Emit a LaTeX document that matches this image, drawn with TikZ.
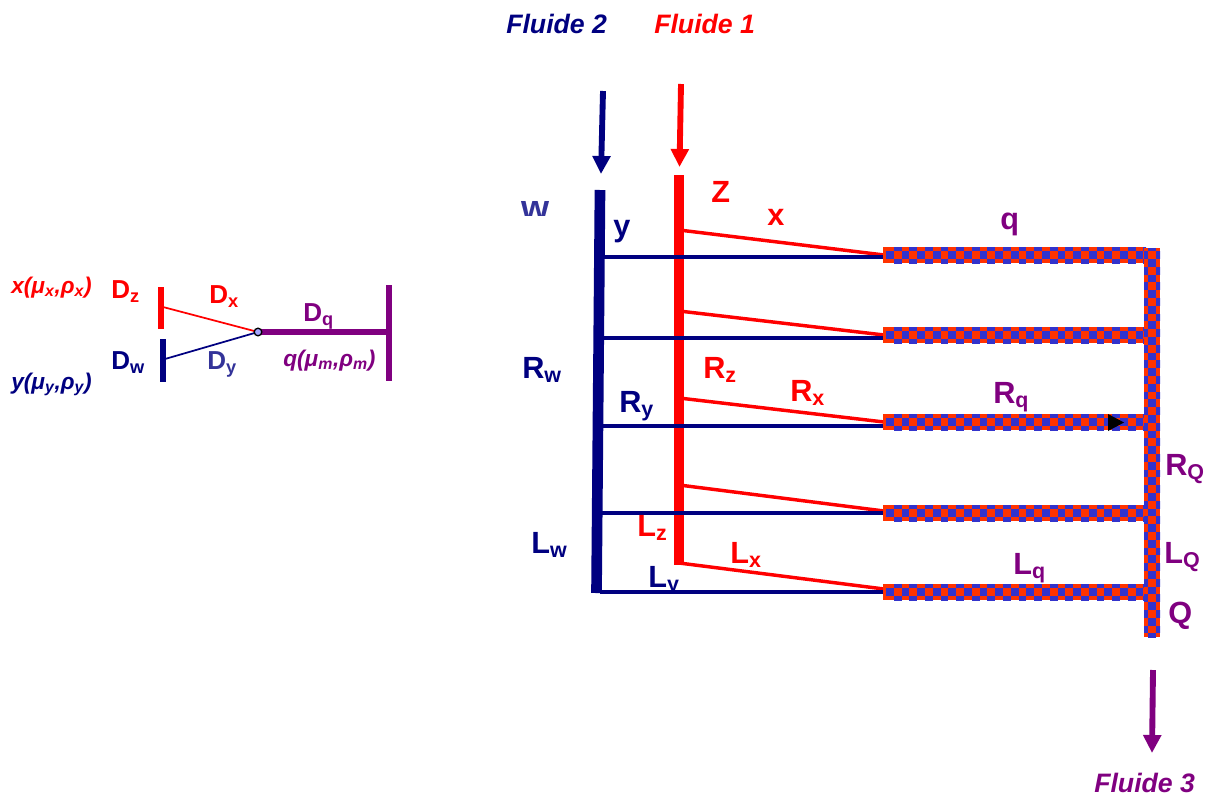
\documentclass[tikz,border=0pt]{standalone}
\usepackage{fontspec}
\setmainfont{Liberation Sans}
\usetikzlibrary{arrows.meta}
\definecolor{fnavy}{HTML}{000080}
\definecolor{fpale}{HTML}{333399}
\definecolor{fpurple}{HTML}{800080}
\definecolor{chkred}{HTML}{FF3300}
\definecolor{chkblue}{HTML}{3333CC}
\newcommand{\lbl}[2]{#1\textsubscript{#2}}
\newcommand{\hchecks}[1]{%
  \begin{scope}
    \clip (883,#1-8) rectangle (1146,#1+8);
    \fill[chkred] (883,#1-8) rectangle (1146,#1+8);
    \foreach \k in {0,...,16}{
      \fill[chkblue] (886+15.6*\k,#1-3.9) rectangle +(7.8,7.8);
      \fill[chkblue] (893.8+15.6*\k,#1-11.7) rectangle +(7.8,7.8);
      \fill[chkblue] (893.8+15.6*\k,#1+3.9) rectangle +(7.8,7.8);
    }
  \end{scope}}
\tikzset{
  big/.style={font=\fontsize{23}{25}\bfseries,anchor=base west,inner sep=0pt},
  small/.style={font=\fontsize{19.5}{22}\bfseries,anchor=base west,inner sep=0pt},
  fluid/.style={font=\fontsize{20}{22}\bfseries\itshape,anchor=base west,inner sep=0pt},
  prop/.style={font=\fontsize{17}{19}\bfseries\itshape,anchor=base west,inner sep=0pt},
  feed/.style={line width=4.4pt,-{Triangle[length=13.5pt,width=13pt]}}
}
\begin{document}
\begin{tikzpicture}[x=0.75pt,y=-0.75pt]
  \useasboundingbox (0,0) rectangle (1209,796);
  % small junction on the left
  \coordinate (Z1) at (161,287); \coordinate (Z2) at (161,329);
  \coordinate (W1) at (163,339); \coordinate (W2) at (163,382);
  \coordinate (Zm) at (163,307); \coordinate (Wm) at (165,359);
  \coordinate (J) at (258,332);  \coordinate (E) at (389,332);
  \coordinate (E1) at (389,285); \coordinate (E2) at (389,381);
  \draw[red,line width=4.4pt] (Z1) -- (Z2);
  \draw[fnavy,line width=4.4pt] (W1) -- (W2);
  \draw[fpurple,line width=4.2pt] (E1) -- (E2);
  \draw[fpurple,line width=4.2pt] (J) -- (E);
  \draw[red,line width=1.3pt] (Zm) -- (J);
  \draw[fnavy,line width=1.3pt] (Wm) -- (J);
  \fill[fill=blue!35!white,draw=black,line width=1pt] (J) circle (3.8);
  \node[prop,red] (xprop) at (11,293) {x(μ\textsubscript{x},ρ\textsubscript{x})};
  \node[prop,fnavy] (yprop) at (11,389) {y(μ\textsubscript{y},ρ\textsubscript{y})};
  \node[prop,fpurple] (qprop) at (283,366) {q(μ\textsubscript{m},ρ\textsubscript{m})};
  \node[small,red] (Dz) at (111,298) {\lbl{D}{z}};
  \node[small,red] (Dx) at (209,303) {\lbl{D}{x}};
  \node[small,fpurple] (Dq) at (303,321) {\lbl{D}{q}};
  \node[small,fnavy] (Dw) at (111,369) {\lbl{D}{w}};
  \node[small,fpale] (Dy) at (207,369) {\lbl{D}{y}};
  % clipped labels go under the lines
  \begin{scope}
    \clip (500,180) rectangle (580,215);
    \node[big,fpale,font=\fontsize{27}{29}\bfseries] (w) at (521.5,220) {w};
  \end{scope}
  \begin{scope}
    \clip (640,555) rectangle (690,591);
    \node[big,fnavy] (Ly) at (648,587) {\lbl{L}{y}};
  \end{scope}
  % feed channels
  \coordinate (Na) at (600,190); \coordinate (Nb) at (596.5,593);
  \coordinate (Ra) at (679,175); \coordinate (Rb) at (679,565);
  \draw[red,line width=7.6pt] (Ra) -- (Rb);
  \foreach \n/\yy/\ys/\ye in {1/257/230/255,2/338/311/335,3/426/398/422,4/513/485/511,5/592/563/589}{
    \coordinate (N\n) at (600,\yy);
    \coordinate (M\n) at (884,\yy);
    \coordinate (S\n) at (679,\ys);
    \coordinate (T\n) at (884,\ye);
    \draw[red,line width=2.6pt] (S\n) -- (T\n);
    \draw[fnavy,line width=2.8pt] (N\n) -- (M\n);
  }
  \draw[fnavy,line width=8pt] (Na) -- (Nb);
  % checkered collectors
  \foreach \yy in {255,335,422,513,592}{
    \hchecks{\yy}
  }
  \begin{scope}
    \clip (1144,248) rectangle (1160,637);
    \fill[chkred] (1144,248) rectangle (1160,637);
    \foreach \k in {0,...,25}{
      \fill[chkblue] (1148,243.4+15.6*\k) rectangle +(7.8,7.8);
      \fill[chkblue] (1140.2,251.2+15.6*\k) rectangle +(7.8,7.8);
      \fill[chkblue] (1155.8,251.2+15.6*\k) rectangle +(7.8,7.8);
    }
  \end{scope}
  % arrows
  \coordinate (A1) at (603,91);  \coordinate (A2) at (601,174);
  \coordinate (B1) at (681,84);  \coordinate (B2) at (679.5,167);
  \coordinate (C1) at (1153,670); \coordinate (C2) at (1152,753);
  \draw[feed,fnavy] (A1) -- (A2);
  \draw[feed,red] (B1) -- (B2);
  \draw[feed,fpurple] (C1) -- (C2);
  \coordinate (K1) at (1108,414); \coordinate (K2) at (1108,431); \coordinate (K3) at (1124,422.5);
  \fill[black] (K1) -- (K2) -- (K3) -- cycle;
  % labels
  \node[fluid,fnavy] (F2) at (506,33) {Fluide 2};
  \node[fluid,red] (F1) at (654,33) {Fluide 1};
  \node[fluid,fpurple] (F3) at (1094,792) {Fluide 3};
  \node[big,red] (Z) at (711,202) {Z};
  \node[big,red] (x) at (767,225) {x};
  \node[big,fpurple] (q) at (1000,229) {q};
  \node[big,fnavy] (y) at (613,236) {y};
  \node[big,fnavy] (Rw) at (522,378) {\lbl{R}{w}};
  \node[big,red] (Rz) at (703,378) {\lbl{R}{z}};
  \node[big,red] (Rx) at (790,401) {\lbl{R}{x}};
  \node[big,fpurple] (Rq) at (993,403) {\lbl{R}{q}};
  \node[big,fnavy] (Ry) at (619,412) {\lbl{R}{y}};
  \node[big,fpurple] (RQ) at (1165,475) {\lbl{R}{Q}};
  \node[big,fpurple] (LQ) at (1164,563) {\lbl{L}{Q}};
  \node[big,fnavy] (Lw) at (531,553) {\lbl{L}{w}};
  \node[big,red] (Lz) at (637,536) {\lbl{L}{z}};
  \node[big,red] (Lx) at (730,563) {\lbl{L}{x}};
  \node[big,fpurple] (Lq) at (1013,574) {\lbl{L}{q}};
  \node[big,fpurple] (Q) at (1168,623) {Q};
\end{tikzpicture}
\end{document}
